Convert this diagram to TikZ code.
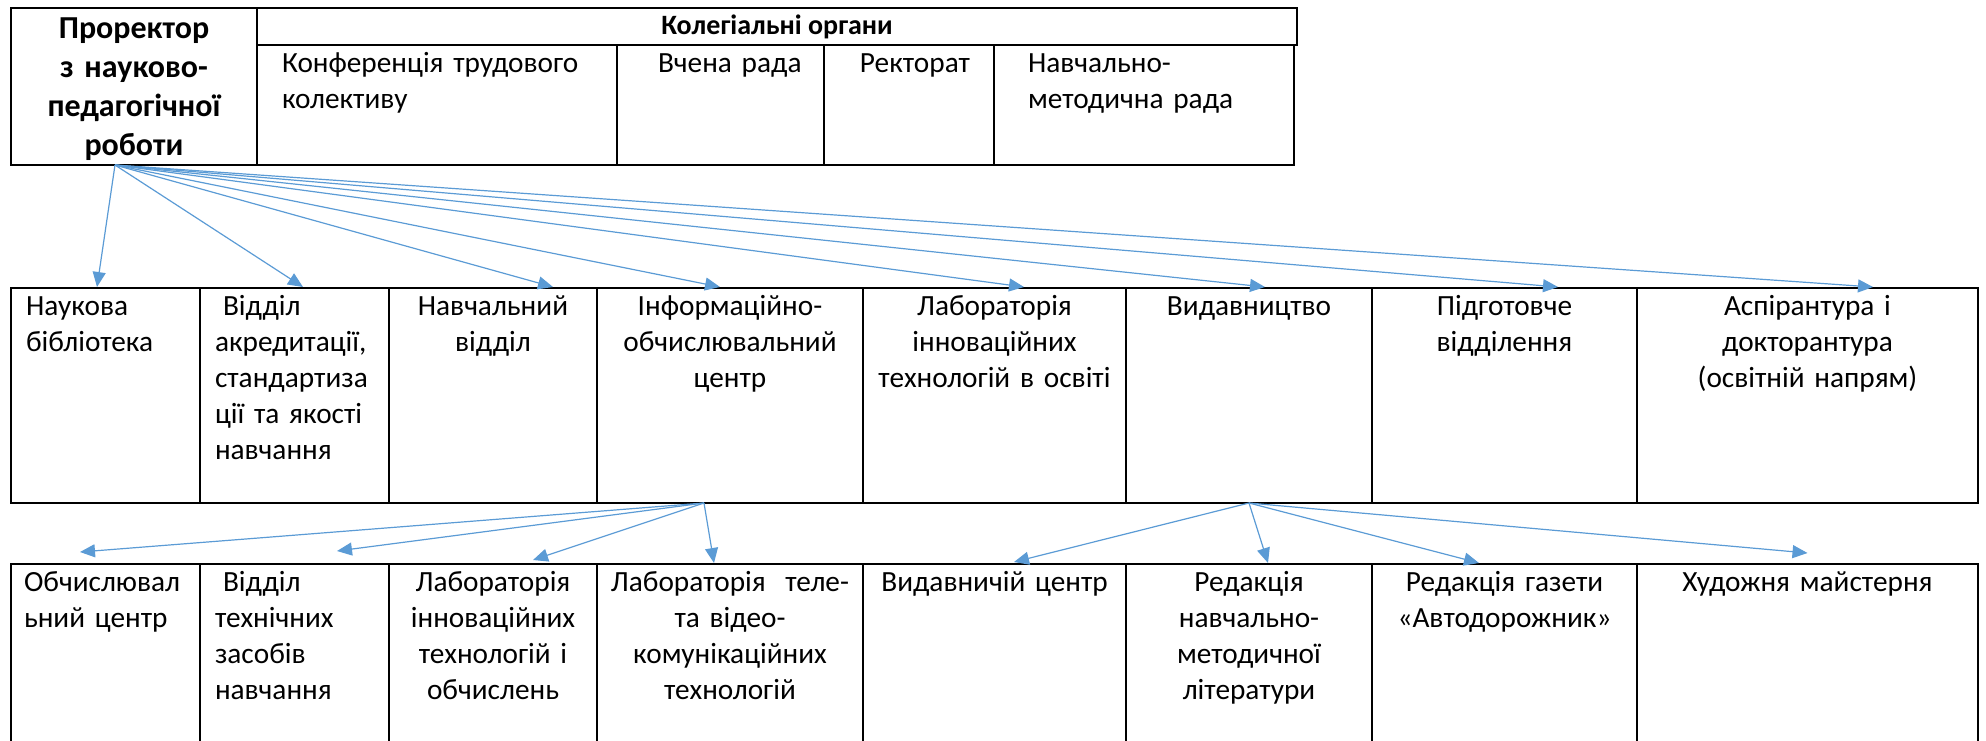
\documentclass[tikz,border=0pt]{standalone}
\usepackage{fontspec}
\setmainfont{Carlito}
\usetikzlibrary{arrows.meta,calc}
\definecolor{arrowblue}{HTML}{5B9BD5}
\begin{document}
\begin{tikzpicture}[x=1pt,y=-1pt,
  cell/.style={draw=black,line width=2pt,inner sep=0pt,outer sep=0pt,anchor=north west},
  txt/.style={inner sep=0pt,outer sep=0pt,font=\fontsize{29.3}{36}\selectfont},
  ctxt/.style={txt,anchor=base,align=center},
  ltxt/.style={txt,anchor=base west,align=left},
  arr/.style={draw=arrowblue,line width=1.2pt,-{Triangle[length=15pt,width=13pt]}},
]
\useasboundingbox (0,0) rectangle (1986,740);

% top table
\node[cell,minimum width=246pt,minimum height=157pt] (pr) at (11,8) {};
\node[cell,minimum width=1040pt,minimum height=37pt] (hdr) at (257,8) {};
\node[cell,minimum width=360pt,minimum height=120pt] (k1) at (257,45) {};
\node[cell,minimum width=207pt,minimum height=120pt] (k2) at (617,45) {};
\node[cell,minimum width=170pt,minimum height=120pt] (k3) at (824,45) {};
\node[cell,minimum width=300pt,minimum height=120pt] (k4) at (994,45) {};

\node[txt,anchor=base,align=center,text width=244pt,font=\fontsize{32}{39.3}\selectfont\bfseries] (prt) at (134,38)
  {Проректор\\з науково-\\педагогічної\\роботи};
\node[txt,anchor=base,font=\fontsize{28}{34}\selectfont\bfseries] (hdrt) at (777,34) {Колегіальні органи};
\node[ltxt,text width=345pt] (k1t) at (282,72) {Конференція трудового\\колективу};
\node[ltxt,text width=165pt] (k2t) at (658,72) {Вчена рада};
\node[ctxt,text width=165pt] (k3t) at (915,72) {Ректорат};
\node[ltxt,text width=265pt] (k4t) at (1028,72) {Навчально-\\методична рада};

% middle row
\node[cell,minimum width=189pt,minimum height=215pt] (m1) at (11,288) {};
\node[cell,minimum width=189pt,minimum height=215pt] (m2) at (200,288) {};
\node[cell,minimum width=208pt,minimum height=215pt] (m3) at (389,288) {};
\node[cell,minimum width=266pt,minimum height=215pt] (m4) at (597,288) {};
\node[cell,minimum width=263pt,minimum height=215pt] (m5) at (863,288) {};
\node[cell,minimum width=246pt,minimum height=215pt] (m6) at (1126,288) {};
\node[cell,minimum width=265pt,minimum height=215pt] (m7) at (1372,288) {};
\node[cell,minimum width=341pt,minimum height=215pt] (m8) at (1637,288) {};

\node[ltxt,text width=180pt] (m1t) at (26,315) {Наукова\\бібліотека};
\node[ltxt,text width=180pt] (m2t) at (215,315) {\hspace*{8pt}Відділ\\акредитації,\\стандартиза\\ції та якості\\навчання};
\node[ctxt,text width=206pt] (m3t) at (493,315) {Навчальний\\відділ};
\node[ctxt,text width=262pt] (m4t) at (730,315) {Інформаційно-\\обчислювальний\\центр};
\node[ctxt,text width=260pt] (m5t) at (994.5,315) {Лабораторія\\інноваційних\\технологій в освіті};
\node[ctxt,text width=240pt] (m6t) at (1249,315) {Видавництво};
\node[ctxt,text width=260pt] (m7t) at (1504.5,315) {Підготовче\\відділення};
\node[ctxt,text width=335pt] (m8t) at (1807.5,315) {Аспірантура і\\докторантура\\(освітній напрям)};

% bottom row
\node[cell,minimum width=189pt,minimum height=200pt] (b1) at (11,564) {};
\node[cell,minimum width=189pt,minimum height=200pt] (b2) at (200,564) {};
\node[cell,minimum width=208pt,minimum height=200pt] (b3) at (389,564) {};
\node[cell,minimum width=266pt,minimum height=200pt] (b4) at (597,564) {};
\node[cell,minimum width=263pt,minimum height=200pt] (b5) at (863,564) {};
\node[cell,minimum width=246pt,minimum height=200pt] (b6) at (1126,564) {};
\node[cell,minimum width=265pt,minimum height=200pt] (b7) at (1372,564) {};
\node[cell,minimum width=341pt,minimum height=200pt] (b8) at (1637,564) {};

\node[ltxt,text width=180pt] (b1t) at (24,591) {Обчислювал\\ьний центр};
\node[ltxt,text width=180pt] (b2t) at (215,591) {\hspace*{8pt}Відділ\\технічних\\засобів\\навчання};
\node[ctxt,text width=206pt] (b3t) at (493,591) {Лабораторія\\інноваційних\\технологій і\\обчислень};
\node[ctxt,text width=262pt] (b4t) at (730,591) {Лабораторія\ \ теле-\\та відео-\\комунікаційних\\технологій};
\node[ctxt,text width=260pt] (b5t) at (994.5,591) {Видавничій центр};
\node[ctxt,text width=240pt] (b6t) at (1249,591) {Редакція\\навчально-\\методичної\\літератури};
\node[ctxt,text width=260pt] (b7t) at (1504.5,591) {Редакція газети\\«Автодорожник»};
\node[ctxt,text width=335pt] (b8t) at (1807.5,591) {Художня майстерня};

% arrows from the pro-rector
\coordinate (o1) at ($(pr.south)+(-19,0)$);
\draw[arr] (o1) -- ($(m1.north)+(-8.5,-1)$);
\draw[arr] (o1) -- ($(m2.north)+(8.5,-1)$);
\draw[arr] (o1) -- ($(m3.north)+(60,-1)$);
\draw[arr] (o1) -- ($(m4.north)+(-10,-1)$);
\draw[arr] (o1) -- ($(m5.north)+(29.5,-1)$);
\draw[arr] (o1) -- ($(m6.north)+(16,-1)$);
\draw[arr] (o1) -- ($(m7.north)+(53.5,-1)$);
\draw[arr] (o1) -- ($(m8.north)+(65.5,-1)$);

% arrows from the computing centre
\coordinate (o2) at ($(m4.south)+(-26,0)$);
\draw[arr] (o2) -- ($(b1.north)+(-25.5,-12)$);
\draw[arr] (o2) -- ($(b2.north)+(42.5,-13)$);
\draw[arr] (o2) -- ($(b3.north)+(40,-4)$);
\draw[arr] (o2) -- ($(b4.north)+(-16,-1)$);

% arrows from the publishing house
\coordinate (o3) at (m6.south);
\draw[arr] (o3) -- ($(b5.north)+(19.5,-2)$);
\draw[arr] (o3) -- ($(b6.north)+(19,-1)$);
\draw[arr] (o3) -- ($(b7.north)+(-25.5,-1)$);
\draw[arr] (o3) -- ($(b8.north)+(0,-11)$);
\end{tikzpicture}
\end{document}
